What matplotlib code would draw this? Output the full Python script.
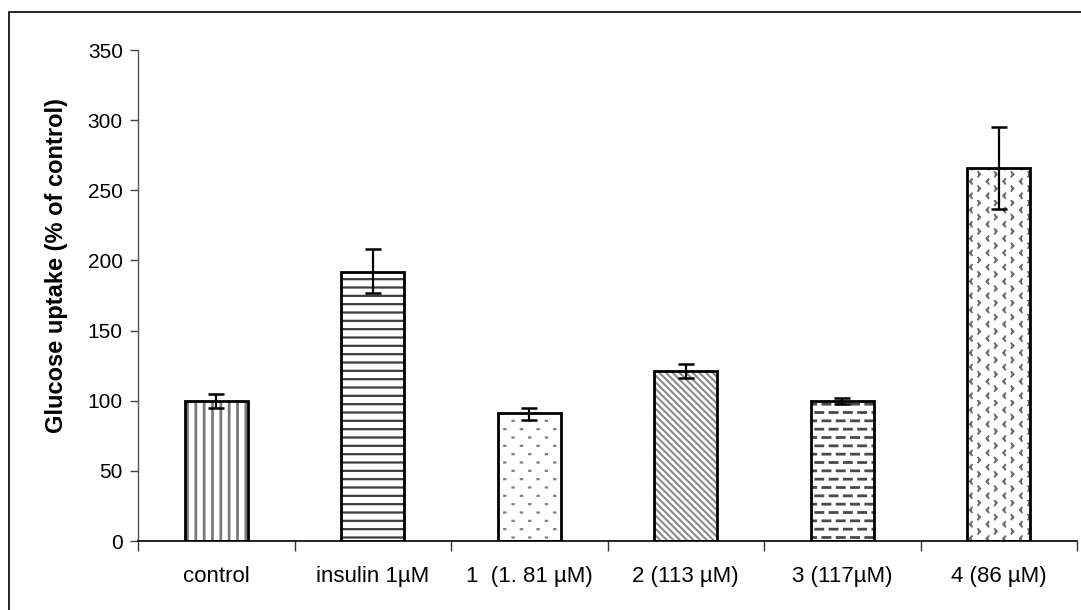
import warnings
warnings.filterwarnings("ignore")
import matplotlib
matplotlib.use("Agg")
import matplotlib.pyplot as plt
from matplotlib.patches import Rectangle
from matplotlib import hatch as mhatch
from matplotlib.path import Path
import numpy as np

categories = ["control", "insulin 1µM", "1  (1. 81 µM)", "2 (113 µM)", "3 (117µM)", "4 (86 µM)"]
values = [100, 192, 91, 121, 100, 266]
err_low = [95, 177, 86, 116, 98, 237]
err_high = [105, 208, 95, 126, 102, 295]
yticks = [0, 50, 100, 150, 200, 250, 300, 350]

hatches = ["||", "--", "p", "\\\\\\\\\\", "d", "c"]
hatch_colors = ["#7a7a7a", "#3c3c3c", "#808080", "#8a8a8a", "#4a4a4a", "#6a6a6a"]
hatch_widths = [2.0, 1.6, 1.6, 1.5, 2.0, 1.3]


# ---- custom texture hatches (dash rows, staggered dots, chevrons) ----
class _SegHatch(mhatch.HatchPatternBase):
    char = "?"

    def __init__(self, hatch, density):
        self.segs = self.make() if hatch.count(self.char) > 0 else []
        self.num_vertices = sum(len(s) for s in self.segs)

    def set_vertices_and_codes(self, vertices, codes):
        i = 0
        for s in self.segs:
            n = len(s)
            vertices[i:i + n] = s
            codes[i] = Path.MOVETO
            codes[i + 1:i + n] = Path.LINETO
            i += n


class DashHatch(_SegHatch):
    char = "d"

    def make(self):
        segs = []
        rows, per = 12, 7
        p = 1.0 / per
        L = 0.5 * p
        for r in range(rows):
            y = (r + 0.5) / rows
            off = 0.5 * p if r % 2 else 0.0
            for k in range(per):
                x0 = (k * p + off + 0.1 * p) % 1.0
                if x0 + L > 1.0:
                    x0 = 1.0 - L - 0.001
                segs.append([(x0, y), (x0 + L, y)])
        return segs


class DotHatch(_SegHatch):
    char = "p"

    def make(self):
        segs = []
        rows, per = 12, 6
        p = 1.0 / per
        d = 0.012
        for r in range(rows):
            y = (r + 0.5) / rows
            off = 0.5 * p if r % 2 else 0.0
            for k in range(per):
                x0 = k * p + off + 0.25 * p
                segs.append([(x0, y), (x0 + d, y)])
        return segs


class ChevronHatch(_SegHatch):
    char = "c"

    def make(self):
        segs = []
        cols, rows = 12, 7
        cw, rh = 1.0 / cols, 1.0 / rows
        w, h = 0.022, 0.024
        for c in range(cols):
            x = (c + 0.5) * cw
            for r in range(rows):
                if c % 2 == 0:
                    y = (r + 0.3) * rh
                    segs.append([(x + w / 2, y + h), (x - w / 2, y), (x + w / 2, y - h)])
                else:
                    y = (r + 0.8) * rh
                    segs.append([(x - w / 2, y + h), (x + w / 2, y), (x - w / 2, y - h)])
        return segs


mhatch._hatch_types.extend([DashHatch, DotHatch, ChevronHatch])

plt.rcParams['font.family'] = ['Liberation Sans', 'DejaVu Sans']

fig = plt.figure(figsize=(10.81, 6.10), dpi=100)
ax = fig.add_axes([0.1277, 0.1131, 0.8686, 0.8049])

x = np.arange(len(categories))
vals = np.array(values)
lo = vals - np.array(err_low)
hi = np.array(err_high) - vals

for i in range(len(categories)):
    plt.rcParams['hatch.linewidth'] = hatch_widths[i]
    ax.bar(x[i], vals[i], width=0.4, color="white", edgecolor=hatch_colors[i],
           hatch=hatches[i], linewidth=0, zorder=2)
ax.bar(x, vals, width=0.4, facecolor="none", edgecolor="black", linewidth=2, zorder=3)
ax.errorbar(x, vals, yerr=[lo, hi], fmt="none", ecolor="black", elinewidth=1.6,
            capsize=5.5, capthick=1.8, zorder=4)

ax.set_xlim(-0.5, len(categories) - 0.5)
ax.set_ylim(0, 350)
ax.set_yticks(yticks)
ax.set_xticks(x)
ax.set_xticklabels(categories, fontsize=16)
ax.set_xticks(np.arange(len(categories) + 1) - 0.5, minor=True)
ax.tick_params(axis="x", which="major", length=0, pad=18)
ax.tick_params(axis="x", which="minor", length=7, width=1, color="#333333", direction="out")
ax.tick_params(axis="y", length=6, width=1, color="#444444", labelsize=15, pad=5)
for s in ["top", "right"]:
    ax.spines[s].set_visible(False)
ax.spines["left"].set_color("#555555")
ax.spines["left"].set_linewidth(1)
ax.spines["bottom"].set_color("black")
ax.spines["bottom"].set_linewidth(1.2)

ax.set_ylabel("Glucose uptake (% of control)", fontsize=17, fontweight="bold", labelpad=14)
ax.yaxis.label.set_y(0.562)

fig.patches.append(Rectangle((9 / 1081, -0.05), 1.2, 1 - 12 / 610 + 0.05,
                             transform=fig.transFigure, fill=False,
                             edgecolor="black", linewidth=1.2))

fig.savefig("out.png", dpi=100)
